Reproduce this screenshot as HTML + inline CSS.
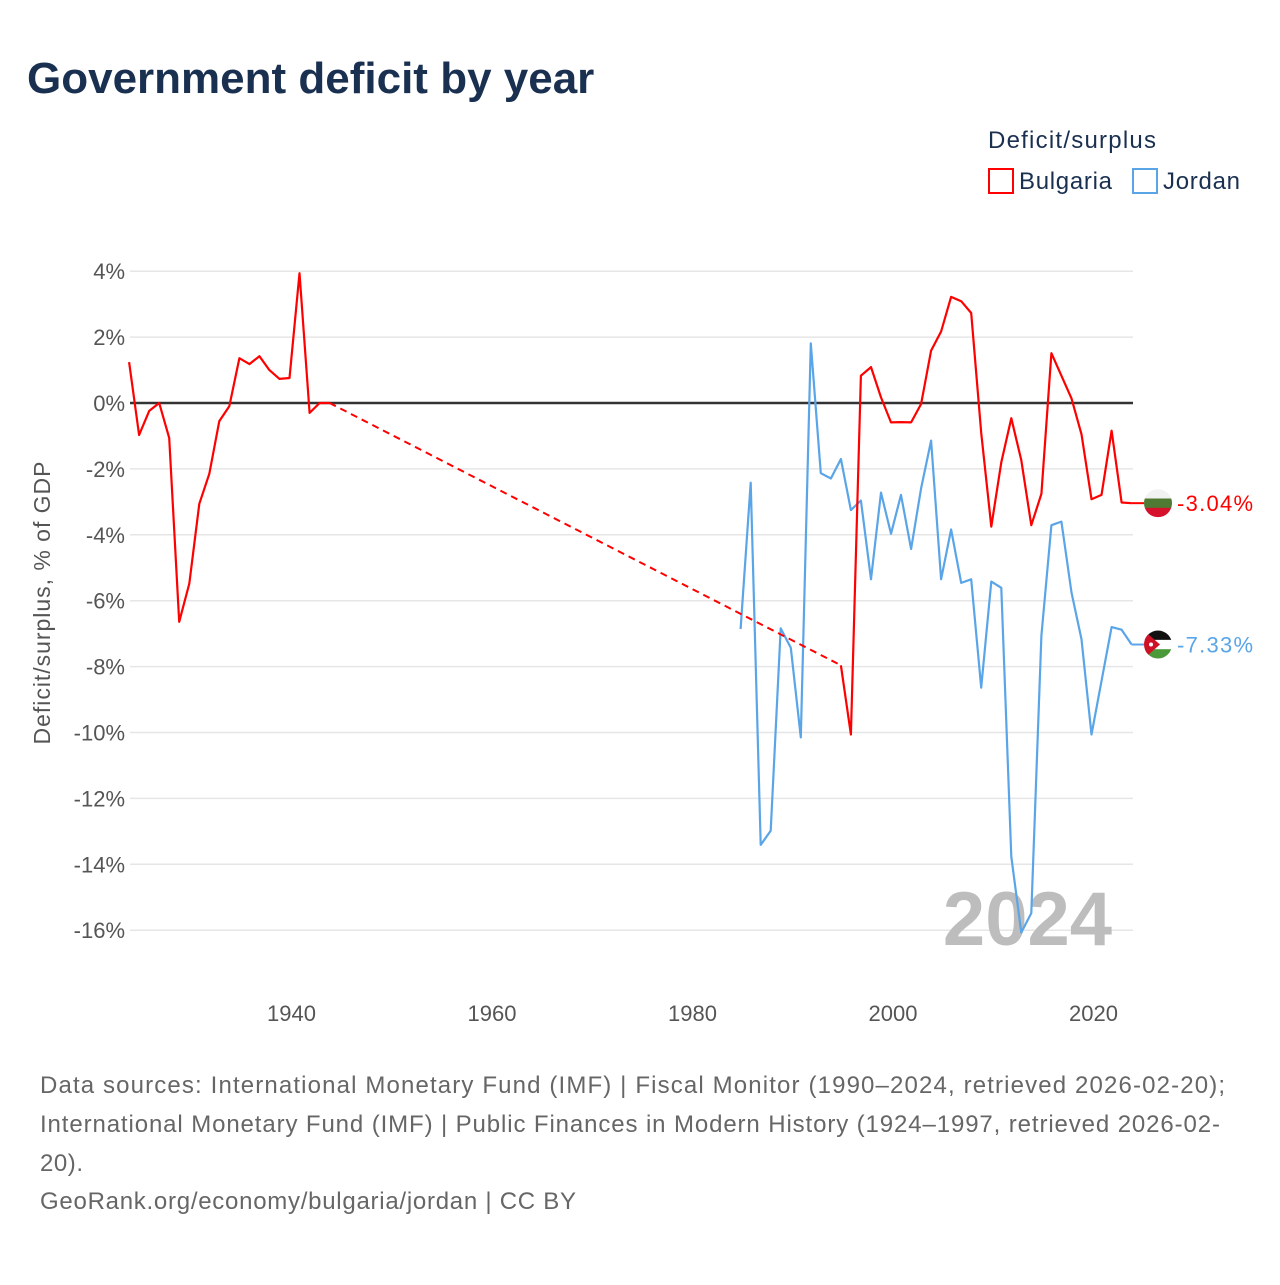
<!DOCTYPE html>
<html><head><meta charset="utf-8"><style>
body{margin:0;background:#fff;font-family:"Liberation Sans",sans-serif;}
svg text{font-family:"Liberation Sans",sans-serif;}
</style></head><body>
<svg id="chart" width="1280" height="1280" viewBox="0 0 1280 1280">
<text x="27" y="93" font-size="44" font-weight="bold" fill="#1a3050">Government deficit by year</text>
<g>
<text x="988" y="148" font-size="24" fill="#1a3050" textLength="168">Deficit/surplus</text>
<g><rect x="989" y="169" width="24" height="24" fill="none" stroke="#ff0000" stroke-width="2"/><text x="1019" y="189" font-size="24" fill="#1a3050" textLength="93">Bulgaria</text></g>
<g><rect x="1133" y="169" width="24" height="24" fill="none" stroke="#5aa5e8" stroke-width="2"/><text x="1163" y="189" font-size="24" fill="#1a3050" textLength="77">Jordan</text></g>
</g>
<g id="grid"></g>
<g id="yticks"></g>
<g id="xticks"></g>
<text transform="translate(50,603) rotate(-90)" text-anchor="middle" font-size="23" fill="#555" textLength="283">Deficit/surplus, % of GDP</text>
<text x="1112" y="945" text-anchor="end" font-size="76" font-weight="bold" fill="#bdbdbd">2024</text>
<g id="series"></g>
<g font-size="24" fill="#666">
<text x="40" y="1093" textLength="1185">Data sources: International Monetary Fund (IMF) | Fiscal Monitor (1990–2024, retrieved 2026-02-20);</text>
<text x="40" y="1132" textLength="1180">International Monetary Fund (IMF) | Public Finances in Modern History (1924–1997, retrieved 2026-02-</text>
<text x="40" y="1171" textLength="43">20).</text>
<text x="40" y="1209" textLength="536">GeoRank.org/economy/bulgaria/jordan | CC BY</text>
</g>
</svg>
<script>
const yTicks=[4,2,0,-2,-4,-6,-8,-10,-12,-14,-16];
const xTicks=[1940,1960,1980,2000,2020];
const bgEarlyYears=[1924,1925,1926,1927,1928,1929,1930,1931,1932,1933,1934,1935,1936,1937,1938,1939,1940,1941,1942,1943,1944];
const bgEarlyValues=[1.24,-0.97,-0.24,0,-1.06,-6.64,-5.48,-3.06,-2.15,-0.55,-0.1,1.36,1.18,1.42,1.0,0.73,0.76,3.94,-0.3,0,0];
const bgLateYears=[1995,1996,1997,1998,1999,2000,2001,2002,2003,2004,2005,2006,2007,2008,2009,2010,2011,2012,2013,2014,2015,2016,2017,2018,2019,2020,2021,2022,2023,2024];
const bgLateValues=[-7.96,-10.06,0.83,1.09,0.17,-0.59,-0.58,-0.59,-0.03,1.59,2.17,3.22,3.09,2.73,-0.9,-3.75,-1.8,-0.46,-1.74,-3.71,-2.76,1.51,0.83,0.14,-0.95,-2.92,-2.79,-0.84,-3.02,-3.04];
const joYears=[1985,1986,1987,1988,1989,1990,1991,1992,1993,1994,1995,1996,1997,1998,1999,2000,2001,2002,2003,2004,2005,2006,2007,2008,2009,2010,2011,2012,2013,2014,2015,2016,2017,2018,2019,2020,2021,2022,2023,2024];
const joValues=[-6.86,-2.42,-13.41,-12.98,-6.84,-7.43,-10.15,1.81,-2.13,-2.29,-1.70,-3.25,-2.96,-5.35,-2.72,-3.97,-2.79,-4.43,-2.59,-1.14,-5.35,-3.84,-5.46,-5.35,-8.64,-5.42,-5.61,-13.77,-16.07,-15.48,-7.06,-3.71,-3.6,-5.75,-7.17,-10.06,-8.44,-6.8,-6.88,-7.33];

const NS="http://www.w3.org/2000/svg";
const X=yr=>289.5+(yr-1940)*10.025;
const Y=v=>403-v*32.95;
function mk(tag,attrs,parent){const e=document.createElementNS(NS,tag);for(const k in attrs)e.setAttribute(k,attrs[k]);parent.appendChild(e);return e;}
const grid=document.getElementById('grid'),yt=document.getElementById('yticks'),xt=document.getElementById('xticks'),ser=document.getElementById('series');
yTicks.forEach(t=>{
  const l=mk('line',{x1:130,x2:1133,y1:Y(t),y2:Y(t),stroke:'#e6e6e6','stroke-width':1.5},grid);
  
  
  const tx=mk('text',{x:125,y:Y(t)+8,'text-anchor':'end','font-size':22,fill:'#555'},yt);
  tx.textContent=t+'%';
  
  
});
xTicks.forEach(t=>{
  const tx=mk('text',{x:X(t)+2,y:1021,'text-anchor':'middle','font-size':22,fill:'#555'},xt);
  tx.textContent=t;
  
  
});
const zl=mk('line',{x1:130,x2:1133,y1:Y(0),y2:Y(0),stroke:'#333','stroke-width':2.5},grid);


const pts=(ys,vs)=>ys.map((y,i)=>X(y).toFixed(1)+','+Y(vs[i]).toFixed(1)).join(' ');
const j=mk('polyline',{points:pts(joYears,joValues),fill:'none',stroke:'#5aa5e8','stroke-width':2.2,'stroke-linejoin':'round'},ser);


const b1=mk('polyline',{points:pts(bgEarlyYears,bgEarlyValues),fill:'none',stroke:'#ff0000','stroke-width':2.2,'stroke-linejoin':'round'},ser);


const ly=bgEarlyYears.length-1;
const gap=mk('line',{x1:X(bgEarlyYears[ly]),y1:Y(bgEarlyValues[ly]),x2:X(bgLateYears[0]),y2:Y(bgLateValues[0]),stroke:'#ff0000','stroke-width':2,'stroke-dasharray':'7,5'},ser);


const b2=mk('polyline',{points:pts(bgLateYears,bgLateValues),fill:'none',stroke:'#ff0000','stroke-width':2.2,'stroke-linejoin':'round'},ser);


function endMarker(yr,v,color,name,label,flag){
  const g=mk('g',{},ser);
  
  
  const y=Y(v),x0=X(yr);
  mk('line',{x1:x0,x2:1144,y1:y,y2:y,stroke:color,'stroke-width':2},g);
  const cx=1158,r=14;
  const cid='c'+name;
  const cp=mk('clipPath',{id:cid},g);mk('circle',{cx:cx,cy:y,r:r},cp);
  const fg=mk('g',{'clip-path':'url(#'+cid+')'},g);
  flag.forEach((c,i)=>mk('rect',{x:cx-r,y:y-r+i*2*r/3,width:2*r,height:2*r/3+0.5,fill:c},fg));
  if(name==='jordan-end-marker'){mk('polygon',{points:(cx-r)+','+(y-r)+' '+(cx+2)+','+y+' '+(cx-r)+','+(y+r),fill:'#ce1126'},fg);mk('circle',{cx:cx-7,cy:y,r:2,fill:'#fff'},fg);}
  const t=mk('text',{x:1177,y:y+8,'font-size':22,fill:color,textLength:76},g);
  t.textContent=label;
}
endMarker(bgLateYears[bgLateYears.length-1],bgLateValues[bgLateValues.length-1],'#ff0000','bulgaria-end-marker',bgLateValues[bgLateValues.length-1].toFixed(2)+'%',['#f2f2f2','#4e7a33','#d6112c']);
endMarker(joYears[joYears.length-1],joValues[joValues.length-1],'#5aa5e8','jordan-end-marker',joValues[joValues.length-1].toFixed(2)+'%',['#111','#fff','#4a9a3a']);
</script>
</body></html>
